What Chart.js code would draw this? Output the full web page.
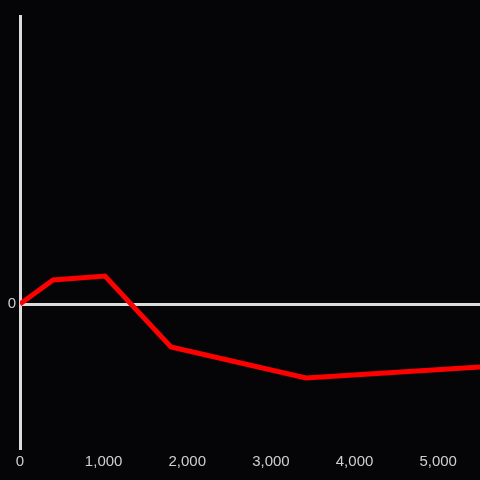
<!DOCTYPE html>
<html>
<head>
<meta charset="utf-8">
<script src="https://cdn.jsdelivr.net/npm/chart.js@4"></script>
<style>
  html, body { margin: 0; padding: 0; background: #050407; }
  #wrap { width: 480px; height: 480px; }
</style>
</head>
<body>
<div id="wrap"><canvas id="chart"></canvas></div>
<script>
// x positions and y values
const xValues = [0, 395, 1016, 1805, 3419, 5500];
const yValues = [0, 0.24, 0.28, -0.43, -0.74, -0.63];
const xTicks = [0, 1000, 2000, 3000, 4000, 5000];
const yTicks = [0];

const axisColor = '#dcdcdc';
const labelColor = '#cfcfcf';

const points = xValues.map((x, i) => ({ x: x, y: yValues[i] }));

new Chart(document.getElementById('chart'), {
    type: 'line',
    data: {
        datasets: [{
            data: points,
            borderColor: '#ff0000',
            borderWidth: 5,
            pointRadius: 0,
            tension: 0,
            fill: false
        }]
    },
    options: {
        responsive: true,
        maintainAspectRatio: false,
        animation: false,
        layout: { padding: { top: 16, right: 0, left: 0, bottom: 0 } },
        plugins: {
            legend: { display: false },
            tooltip: { enabled: false }
        },
        scales: {
            x: {
                type: 'linear',
                min: 0,
                max: 5500,
                afterBuildTicks: (scale) => { scale.ticks = xTicks.map(v => ({ value: v })); },
                afterFit: (scale) => { scale.height = 32; },
                grid: { display: false, drawTicks: false },
                border: { display: false },
                ticks: {
                    color: labelColor,
                    padding: 5,
                    font: { size: 15, family: "'Liberation Sans', Arial, sans-serif" },
                    maxRotation: 0,
                    callback: (v) => v.toLocaleString('en-US')
                }
            },
            y: {
                type: 'linear',
                min: -1.44,
                max: 2.88,
                afterBuildTicks: (scale) => { scale.ticks = yTicks.map(v => ({ value: v })); },
                afterFit: (scale) => { scale.width = 20; },
                grid: { color: axisColor, lineWidth: 3, drawTicks: false },
                border: { display: true, color: axisColor, width: 3 },
                ticks: {
                    color: labelColor,
                    padding: 4,
                    font: { size: 15, family: "'Liberation Sans', Arial, sans-serif" },
                    callback: (v) => String(v)
                }
            }
        }
    }
});
</script>
</body>
</html>
